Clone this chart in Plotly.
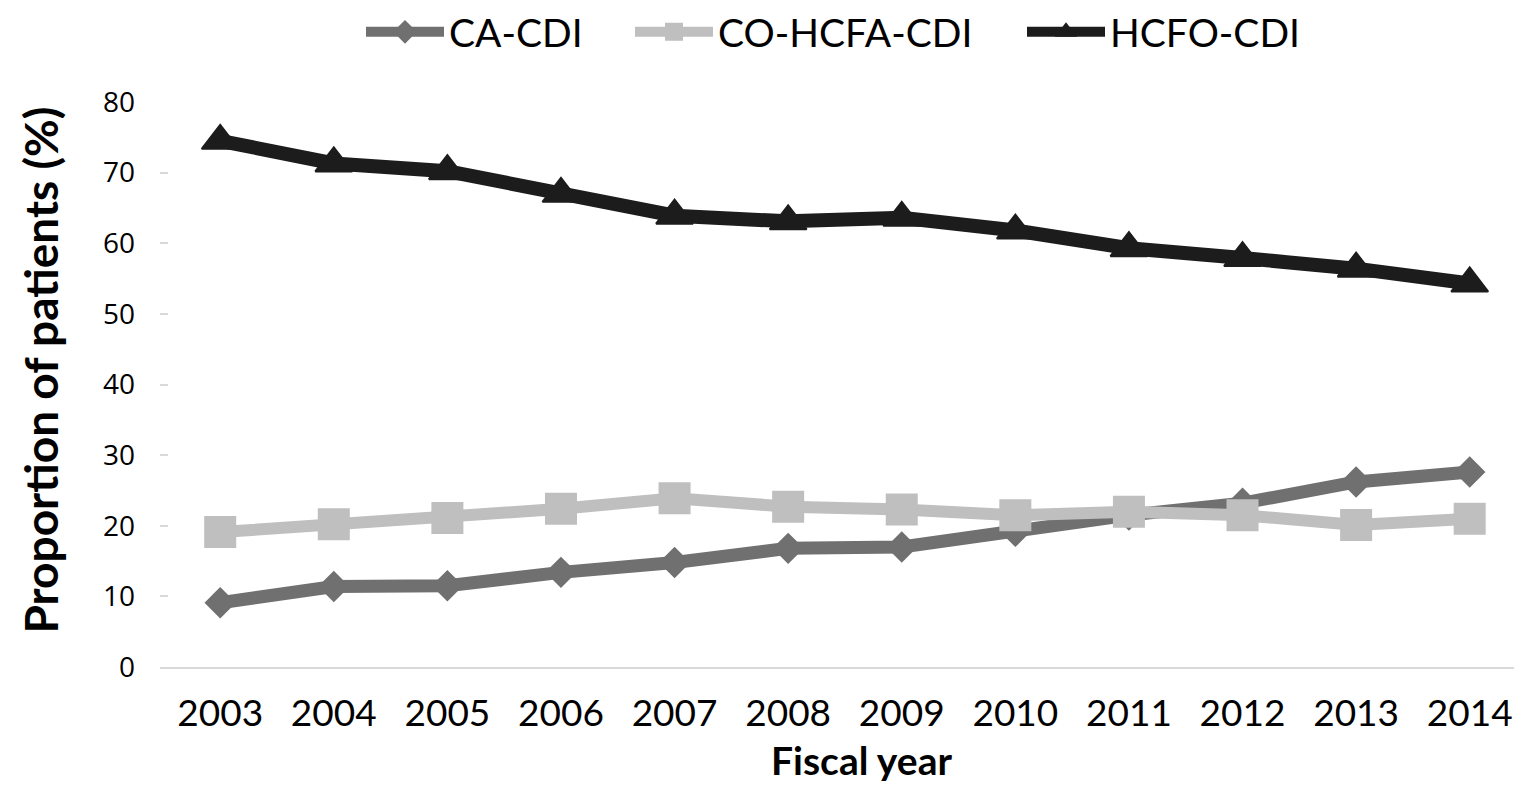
import plotly.graph_objects as go

# Fiscal years and share of patients (%) for each CDI category
years = [2003, 2004, 2005, 2006, 2007, 2008, 2009, 2010, 2011, 2012, 2013, 2014]
ca_cdi = [9.1, 11.4, 11.5, 13.4, 14.8, 16.8, 17.0, 19.2, 21.5, 23.2, 26.2, 27.6]
co_hcfa_cdi = [19.1, 20.2, 21.1, 22.4, 23.9, 22.7, 22.3, 21.5, 22.0, 21.5, 20.1, 21.0]
hcfo_cdi = [74.5, 71.3, 70.2, 67.0, 63.9, 63.1, 63.6, 61.8, 59.3, 57.9, 56.4, 54.3]
y_ticks = [0, 10, 20, 30, 40, 50, 60, 70, 80]

W, H = 1514, 786
L, R, T, B = 160, 0, 101, 119
PW, PH = W - L - R, H - T - B


def px_x(px):
    return (px - L) / PW


def px_y(py):
    return (H - B - py) / PH


fig = go.Figure()

# name, values, colour, marker symbol, marker size, line width, legend id, legend left (px)
series = [
    ("CA-CDI", ca_cdi, "#707070", "diamond", 22, 13, "legend", 361),
    ("CO-HCFA-CDI", co_hcfa_cdi, "#bfbfbf", "square", 30, 12, "legend2", 630),
    ("HCFO-CDI", hcfo_cdi, "#1c1c1c", "triangle-up", 32, 14, "legend3", 1022),
]
legends = {}
for name, vals, color, symbol, msize, lw, lg, lx in series:
    fig.add_trace(go.Scatter(
        x=years, y=vals, name=name, mode="lines+markers",
        line=dict(color=color, width=lw),
        marker=dict(symbol=symbol, size=msize, color=color,
                    line=dict(color=color, width=2)),
        cliponaxis=False, legend=lg,
    ))
    legends[lg] = dict(
        orientation="h", x=px_x(lx), xanchor="left", y=px_y(31), yanchor="middle",
        font=dict(family="Lato", size=39, color="black"),
        itemwidth=78, bgcolor="rgba(0,0,0,0)",
    )

fig.update_layout(
    width=W, height=H,
    margin=dict(l=L, r=R, t=T, b=B),
    paper_bgcolor="white", plot_bgcolor="white",
    font=dict(family="Lato", color="black"),
    showlegend=True,
    xaxis=dict(
        range=[2002.47, 2014.39], tickvals=years, ticktext=[str(y) for y in years],
        showgrid=False, zeroline=False, showline=True, linecolor="#d9d9d9", linewidth=2,
        ticks="", tickfont=dict(family="Lato", size=37, color="black"),
        ticklabelstandoff=13,
    ),
    yaxis=dict(
        range=[0, 80], tickvals=y_ticks, showgrid=False, zeroline=False, showline=False,
        ticks="inside", ticklen=8, tickcolor="#d9d9d9", tickwidth=2,
        tickfont=dict(family="Open Sans", size=28, color="black"),
        ticklabelstandoff=24,
    ),
    annotations=[
        dict(text="<b>Fiscal year</b>", xref="paper", yref="paper",
             x=px_x(861), y=px_y(785),
             xanchor="center", yanchor="bottom", showarrow=False,
             font=dict(family="Lato", size=39, color="black")),
        dict(text="<b>Proportion of patients (%)</b>", xref="paper", yref="paper",
             x=px_x(41), y=px_y(370),
             xanchor="center", yanchor="middle", textangle=-90, showarrow=False,
             font=dict(family="Lato", size=46, color="black")),
    ],
    **legends,
)

fig.write_html("out.html")
